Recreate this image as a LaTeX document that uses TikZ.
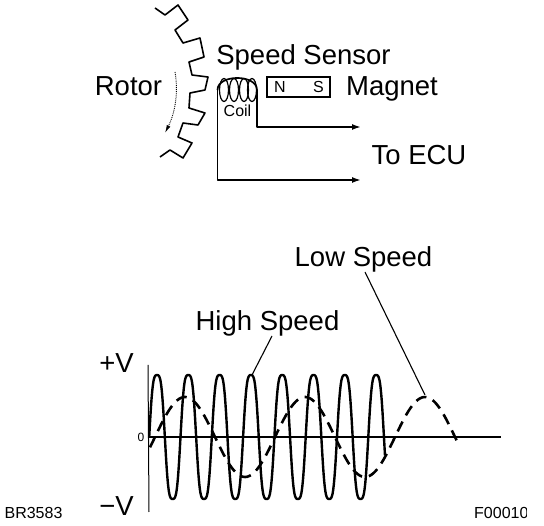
\documentclass[tikz,border=0pt]{standalone}
\usepackage{fontspec}
\setmainfont{Liberation Sans}
\usetikzlibrary{arrows.meta}
\tikzset{
  lbl/.style={inner sep=0pt,font=\fontsize{27.5}{30}\selectfont,anchor=base},
  smalllbl/.style={inner sep=0pt,font=\fontsize{16}{18}\selectfont,anchor=base},
  wire/.style={line width=1.7pt,line join=round},
  wirearrow/.style={wire,-{Latex[length=9pt,width=6pt]}},
  tooth/.style={line width=1.6pt,line join=round},
  highwave/.style={line width=2.4pt,line join=round},
  lowwave/.style={line width=2.6pt,dash pattern=on 11pt off 7pt},
  leader/.style={line width=1.1pt},
}
\begin{document}
\begin{tikzpicture}[x=1pt,y=-1pt]
\useasboundingbox (0,0) rectangle (544,526);
\fill[white] (0,0) rectangle (544,526);
% rotor
\draw[tooth] (155,8)--(165,15)--(178,5)--(188,20)--(175,30)--(183,43)--(200,38)--(204,57)--(189,62)--(192,75)--(208,77)--(205,90)--(190,93)--(189,108)--(205,113)--(198,125)--(183,123)--(178,137)--(192,143)--(183,158)--(170,150)--(160,157);
\coordinate (rs) at (175,72);
\coordinate (re) at (165,133);
\draw[line width=0.9pt,densely dotted,-{Latex[length=8pt,width=4pt]}] (rs) .. controls (179,95) and (174,115) .. (re);
% coil and wires
\coordinate (ctl) at (217.5,90);
\coordinate (ctr) at (257,90);
\coordinate (w1) at (217.5,180);
\coordinate (w1e) at (361,180);
\coordinate (w2) at (257,127);
\coordinate (w2e) at (361,127);
\draw[wire] (ctl) .. controls (217.5,74) and (257,74) .. (ctr);
\draw[wirearrow] (ctl) -- (w1) -- (w1e);
\draw[wirearrow] (ctr) -- (w2) -- (w2e);
\foreach \cx in {224,234,244,252}{
  \draw[line width=1.2pt] (\cx,90) ellipse (4.5pt and 11.5pt);
}
\node[smalllbl] (coil) at (237.5,117) {Coil};
% magnet
\node[draw,line width=1.6pt,minimum width=63pt,minimum height=20pt,inner sep=0pt] (mag) at (298.5,87) {};
\node[smalllbl] (n) at (280,93) {N};
\node[smalllbl] (s) at (318.5,93) {S};
% labels
\node[lbl] (speed) at (303.5,65) {Speed Sensor};
\node[lbl] (rotor) at (128.5,96) {Rotor};
\node[lbl] (magnet) at (392,96) {Magnet};
\node[lbl] (ecu) at (419,165) {To ECU};
\node[lbl] (low) at (363.5,267) {Low Speed};
\node[lbl] (high) at (267.5,331) {High Speed};
\node[lbl] (pv) at (116.5,373) {+V};
\node[lbl] (mv) at (116.5,516) {−V};
\node[inner sep=0pt,font=\fontsize{12}{14}\selectfont] (zero) at (141,437) {0};
\node[smalllbl] (br) at (33.5,519) {BR3583};
\begin{scope}
\clip (460,500) rectangle (526,526);
\node[inner sep=0pt,anchor=base west,font=\fontsize{16}{18}\selectfont] (f) at (474,519) {F00010};
\end{scope}
% axes
\coordinate (ay1) at (148,365);
\coordinate (ay2) at (149,512);
\coordinate (ax1) at (148,437);
\coordinate (ax2) at (501,437);
\draw[line width=1pt] (ay1) -- (ay2);
\draw[line width=1.8pt] (ax1) -- (ax2);
% waves
\draw[highwave,domain=149.2:385,samples=300,smooth] plot (\x,{437-62/0.9*(sin((\x-149.2)/31.3*360)+0.1*sin((\x-149.2)/31.3*1080))});
\draw[lowwave,domain=150:459,samples=160,smooth] plot (\x,{437-40*sin((\x-155)/120*360)});
% leaders
\coordinate (hs) at (272,336);
\coordinate (hp) at (252,375);
\coordinate (ls) at (365,272);
\coordinate (lp) at (425,395);
\draw[leader] (hs) -- (hp);
\draw[leader] (ls) -- (lp);
\end{tikzpicture}
\end{document}
